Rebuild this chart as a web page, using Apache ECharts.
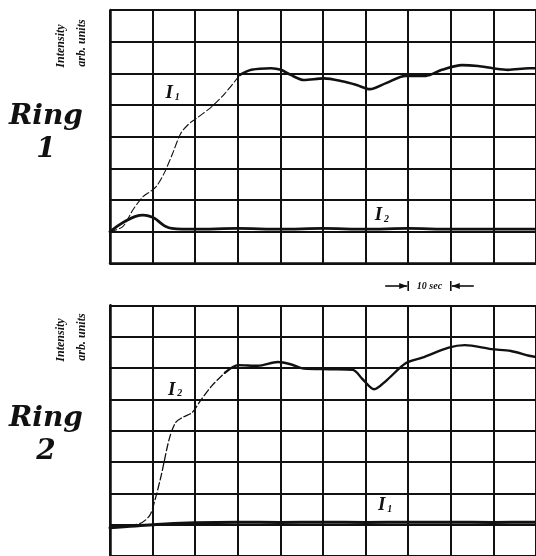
<!DOCTYPE html>
<html><head><meta charset="utf-8">
<script src="https://cdn.jsdelivr.net/npm/echarts@6/dist/echarts.min.js"></script>
<style>html,body{margin:0;padding:0;background:#fff}#c{width:536px;height:556px}</style>
</head><body><div id="c"></div>
<script>
// ---------------- data (time in s, intensity in grid divisions) ----------------
const ring1_I1_t = [0, 3, 5.4, 7.7, 9.6, 11, 12.7, 14.7, 16.6, 18.5, 20, 23.9, 27, 30.5, 33.2, 37.8, 40.1, 42.4, 45.5, 50.2, 54.8, 57.9, 61, 64.8, 69.4, 74.1, 77.9, 82.6, 86.4, 89.9, 93.4, 98.4, 100];
const ring1_I1_v = [0, 0.16, 0.69, 1.1, 1.28, 1.45, 1.84, 2.47, 3.1, 3.4, 3.55, 3.95, 4.37, 4.95, 5.11, 5.16, 5.11, 4.95, 4.79, 4.84, 4.74, 4.63, 4.5, 4.69, 4.92, 4.92, 5.11, 5.26, 5.23, 5.16, 5.11, 5.16, 5.16];
const ring1_I2_t = [0, 2, 4, 6, 7.7, 9, 10.5, 12, 13.1, 14.5, 17, 20, 30, 40, 50, 60, 70, 80, 90, 100];
const ring1_I2_v = [0, 0.2, 0.36, 0.48, 0.52, 0.5, 0.42, 0.26, 0.16, 0.1, 0.08, 0.08, 0.1, 0.08, 0.1, 0.08, 0.1, 0.08, 0.08, 0.08];
const ring2_I2_t = [0, 6.9, 9.3, 10.4, 12, 13.9, 15.4, 17, 19.3, 21.2, 23.9, 27, 30.1, 34.7, 39.4, 42.4, 45.5, 51.6, 57, 59.3, 62, 64.8, 69.4, 73.3, 79.5, 83.3, 89.5, 94.1, 98.4, 100];
const ring2_I2_v = [-0.08, 0.03, 0.29, 0.71, 1.56, 2.73, 3.26, 3.42, 3.58, 3.95, 4.43, 4.85, 5.09, 5.07, 5.19, 5.12, 4.98, 4.96, 4.94, 4.64, 4.32, 4.59, 5.15, 5.33, 5.65, 5.73, 5.6, 5.54, 5.39, 5.35];
const ring2_I1_t = [0, 10, 20, 30, 40, 50, 60, 70, 80, 90, 100];
const ring2_I1_v = [-0.1, 0.0, 0.06, 0.08, 0.07, 0.08, 0.07, 0.08, 0.08, 0.07, 0.08];
// fast pen trace (thin, broken) while the signal rises
const ring1_I1_fastUntil = 30.5;
const ring2_I2_fastUntil = 27;

// ---------------- text ----------------
const panelNames = ['Ring', 'Ring'];
const panelNumbers = ['1', '2'];
const axisTitleLines = ['Intensity', 'arb. units'];
const scaleText = '10 sec';

// ---------------- chart ----------------
const INK = '#111';
const chart = echarts.init(document.getElementById('c'), null, {renderer: 'canvas'});

function pairs(t, v) { return t.map((x, i) => [x, v[i]]); }
function part(t, v, from, to) {
  const out = [];
  t.forEach((x, i) => { if (x >= from && x <= to) out.push([x, v[i]]); });
  return out;
}
function lineSeries(g, data, width, dashed) {
  return {
    type: 'line', xAxisIndex: g, yAxisIndex: g, data: data,
    symbol: 'none', smooth: 0.3, silent: true, z: 5,
    lineStyle: {color: INK, width: width, type: dashed ? [7, 3] : 'solid', cap: 'round', join: 'round'}
  };
}
function xAxis(g) {
  return {
    gridIndex: g, type: 'value', min: 0, max: 100, interval: 10,
    axisLine: {show: true, onZero: false, lineStyle: {color: INK, width: 2.5}},
    axisTick: {show: false}, axisLabel: {show: false},
    splitLine: {show: true, lineStyle: {color: INK, width: 2}}
  };
}
function yAxis(g) {
  return {
    gridIndex: g, type: 'value', min: -1, max: 7, interval: 1,
    axisLine: {show: true, onZero: false, lineStyle: {color: INK, width: 2.5}},
    axisTick: {show: false}, axisLabel: {show: false},
    splitLine: {show: true, lineStyle: {color: INK, width: 2}}
  };
}

const option = {
  animation: false,
  backgroundColor: '#fff',
  grid: [
    {left: 110, top: 10, width: 432, height: 253.3},
    {left: 110, top: 305.3, width: 432, height: 251.2}
  ],
  xAxis: [xAxis(0), xAxis(1)],
  yAxis: [yAxis(0), yAxis(1)],
  series: [
    lineSeries(0, part(ring1_I1_t, ring1_I1_v, 0, ring1_I1_fastUntil), 1.1, true),
    lineSeries(0, part(ring1_I1_t, ring1_I1_v, ring1_I1_fastUntil, 1e9), 2.6, false),
    lineSeries(0, pairs(ring1_I2_t, ring1_I2_v), 2.8, false),
    lineSeries(1, part(ring2_I2_t, ring2_I2_v, 0, ring2_I2_fastUntil), 1.3, true),
    lineSeries(1, part(ring2_I2_t, ring2_I2_v, ring2_I2_fastUntil, 1e9), 2.4, false),
    lineSeries(1, pairs(ring2_I1_t, ring2_I1_v), 3, false)
  ]
};
chart.setOption(option);

// ---------------- annotations ----------------
function px(g, t, v) { return chart.convertToPixel({gridIndex: g}, [t, v]); }
function txt(x, y, text, font, rot) {
  return {type: 'text', x: x, y: y, rotation: rot || 0, z: 10, silent: true,
    style: {text: text, font: font, fill: INK, align: 'center', verticalAlign: 'middle',
            textAlign: 'center', textVerticalAlign: 'middle'}};
}
const curveLabels = [
  {g: 0, t: 13.9, v: 4.38, sub: '1'},
  {g: 0, t: 63.0, v: 0.51, sub: '2'},
  {g: 1, t: 14.5, v: 4.30, sub: '2'},
  {g: 1, t: 63.8, v: 0.61, sub: '1'}
];
const serifBI = '"Liberation Serif", "DejaVu Serif", serif';
const els = [];
curveLabels.forEach(l => {
  const p = px(l.g, l.t, l.v);
  els.push(txt(p[0], p[1], 'I', 'italic bold 19px ' + serifBI));
  els.push(txt(p[0] + 8, p[1] + 4, l.sub, 'italic bold 10px ' + serifBI));
});
// panel titles and axis titles
const panelTop = [10, 305.3];
panelTop.forEach((top, i) => {
  const dy = i === 0 ? 0 : 302;
  els.push(txt(46, 117 + dy, panelNames[i], 'italic bold 28px "DejaVu Serif", serif'));
  els.push(txt(46, 150 + dy, panelNumbers[i], 'italic bold 28px "DejaVu Serif", serif'));
  const ay = i === 0 ? 46 : 340;
  els.push(txt(61, ay, axisTitleLines[0], 'italic bold 12px ' + serifBI, Math.PI / 2));
  els.push(txt(82, ay - 3, axisTitleLines[1], 'italic bold 12px ' + serifBI, Math.PI / 2));
});
// 10 sec scale marker
const yMark = 286;
const xa = px(0, 70, 0)[0], xb = px(0, 80, 0)[0];
const xl = px(0, 64.6, 0)[0], xr = px(0, 85.4, 0)[0];
const ls = {stroke: INK, lineWidth: 1.6};
els.push({type: 'line', shape: {x1: xl, y1: yMark, x2: xa - 1, y2: yMark}, style: ls, silent: true});
els.push({type: 'line', shape: {x1: xb + 1, y1: yMark, x2: xr, y2: yMark}, style: ls, silent: true});
els.push({type: 'line', shape: {x1: xa, y1: yMark - 5, x2: xa, y2: yMark + 5}, style: ls, silent: true});
els.push({type: 'line', shape: {x1: xb, y1: yMark - 5, x2: xb, y2: yMark + 5}, style: ls, silent: true});
els.push({type: 'polygon', shape: {points: [[xa - 1, yMark], [xa - 9, yMark - 3], [xa - 9, yMark + 3]]}, style: {fill: INK}, silent: true});
els.push({type: 'polygon', shape: {points: [[xb + 1, yMark], [xb + 9, yMark - 3], [xb + 9, yMark + 3]]}, style: {fill: INK}, silent: true});
els.push(txt((xa + xb) / 2, yMark, scaleText, 'italic bold 10px ' + serifBI));

chart.setOption({graphic: {elements: els}});
</script>
</body></html>
